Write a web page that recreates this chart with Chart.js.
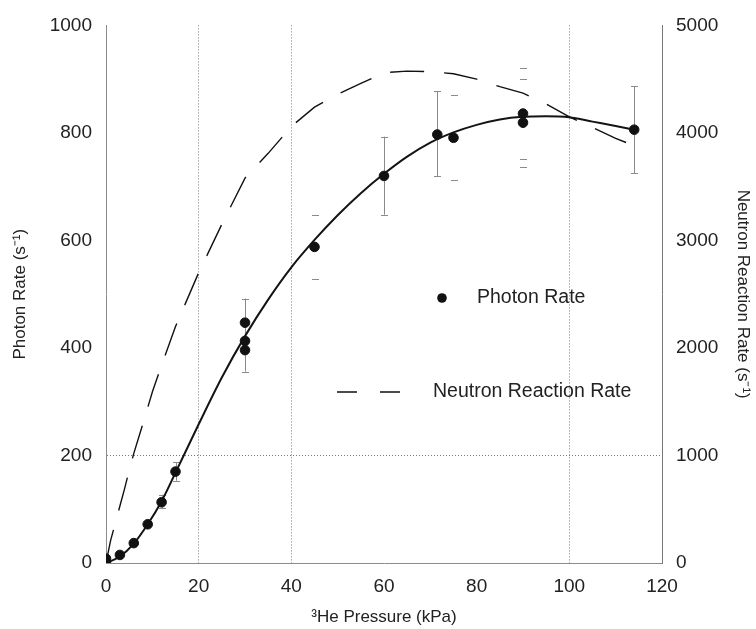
<!DOCTYPE html>
<html>
<head>
<meta charset="utf-8">
<script src="https://cdn.jsdelivr.net/npm/chart.js@4.4.1/dist/chart.umd.min.js"></script>
<style>
  html, body { margin: 0; padding: 0; background: #fff; }
  #wrap { width: 756px; height: 629px; }
</style>
</head>
<body>
<div id="wrap"><canvas id="chart" width="756" height="629"></canvas></div>
<script>
// measured photon rates
const photonX = [0, 0, 3, 6, 9, 12, 15, 30, 30, 30, 45, 60, 71.5, 75, 90, 90, 114];
const photonY = [0, 8, 15, 37, 72, 113, 170, 447, 413, 396, 588, 720, 797, 791, 836, 819, 806];

// error bars (x, low, high, whether the vertical stem is drawn)
const errX    = [12, 15, 30, 45, 60, 71.5, 75, 90, 90, 114];
const errLow  = [102, 153, 356, 529, 648, 719, 712, 752, 737, 725];
const errHigh = [127, 187, 492, 647, 793, 878, 871, 920, 900, 887];
const errStem = [true, true, true, false, true, true, false, false, false, true];

// fitted photon curve
const fitX = [0, 3, 6, 9, 12, 15, 20, 25, 30, 35, 40, 45, 50, 55, 60, 65, 70, 75, 80, 85, 90, 95, 100, 105, 110, 114];
const fitY = [0, 12, 36, 72, 115, 168, 258, 345, 422, 490, 550, 601, 647, 688, 724, 756, 782, 801, 815, 825, 830, 831, 829, 821, 813, 806];

// neutron reaction rate (right axis)
const neutronX = [0, 1, 2, 3, 4, 5, 6, 8, 10, 12, 15, 20, 25, 30, 35, 40, 45, 50, 55, 60, 65, 70, 75, 80, 85, 90, 95, 100, 105, 110, 114];
const neutronY = [0, 210, 370, 530, 690, 860, 1020, 1300, 1590, 1840, 2200, 2700, 3150, 3580, 3810, 4060, 4240, 4360, 4460, 4560, 4575, 4570, 4550, 4500, 4430, 4370, 4270, 4150, 4050, 3950, 3880];

const gridXValues = [20, 40, 100];
const gridYValues = [200];

const FONT = '"Liberation Sans", Arial, sans-serif';
const TEXT = '#222';

const toPts = (xs, ys) => xs.map((x, i) => ({ x: x, y: ys[i] }));
const plain = v => String(v);

const errorBars = {
  id: 'errorBars',
  beforeDatasetsDraw(chart) {
    const { ctx, scales: { x, y } } = chart;
    ctx.save();
    ctx.strokeStyle = '#8a8a8a';
    ctx.lineWidth = 1;
    errX.forEach((v, i) => {
      const px = Math.round(x.getPixelForValue(v)) + 0.5;
      const lo = y.getPixelForValue(errLow[i]);
      const hi = y.getPixelForValue(errHigh[i]);
      ctx.beginPath();
      if (errStem[i]) {
        ctx.moveTo(px, lo);
        ctx.lineTo(px, hi);
      }
      ctx.moveTo(px - 3.5, Math.round(lo) + 0.5);
      ctx.lineTo(px + 3.5, Math.round(lo) + 0.5);
      ctx.moveTo(px - 3.5, Math.round(hi) + 0.5);
      ctx.lineTo(px + 3.5, Math.round(hi) + 0.5);
      ctx.stroke();
    });
    ctx.restore();
  }
};

// legend drawn inside the plot
const insideLegend = {
  id: 'insideLegend',
  afterDraw(chart) {
    const ctx = chart.ctx;
    const ds = chart.data.datasets;
    ctx.save();
    ctx.font = '19.5px ' + FONT;
    ctx.textBaseline = 'middle';
    ctx.beginPath();
    ctx.arc(442, 298, 4.8, 0, Math.PI * 2);
    ctx.fillStyle = '#111';
    ctx.fill();
    ctx.fillStyle = TEXT;
    ctx.fillText(ds[0].label, 477, 298);

    ctx.strokeStyle = '#111';
    ctx.lineWidth = 1.4;
    ctx.setLineDash([20, 23]);
    ctx.beginPath();
    ctx.moveTo(337, 392);
    ctx.lineTo(420, 392);
    ctx.stroke();
    ctx.setLineDash([]);
    ctx.fillText(ds[2].label, 433, 392);
    ctx.restore();
  }
};

new Chart(document.getElementById('chart'), {
  type: 'scatter',
  data: {
    datasets: [
      {
        label: 'Photon Rate',
        data: toPts(photonX, photonY),
        backgroundColor: '#111',
        borderColor: '#111',
        pointRadius: 4.8,
        showLine: false,
        yAxisID: 'y',
        order: 0
      },
      {
        label: 'Fit',
        data: toPts(fitX, fitY),
        borderColor: '#141414',
        borderWidth: 2,
        pointRadius: 0,
        showLine: true,
        cubicInterpolationMode: 'monotone',
        yAxisID: 'y',
        order: 1
      },
      {
        label: 'Neutron Reaction Rate',
        data: toPts(neutronX, neutronY),
        borderColor: '#111',
        borderWidth: 1.4,
        borderDash: [34, 20],
        pointRadius: 0,
        showLine: true,
        tension: 0,
        yAxisID: 'y2',
        order: 2
      }
    ]
  },
  options: {
    responsive: false,
    animation: false,
    layout: { padding: { top: 22, left: 0, right: 0, bottom: 0 } },
    plugins: {
      legend: { display: false },
      tooltip: { enabled: false }
    },
    scales: {
      x: {
        type: 'linear',
        min: 0,
        max: 120,
        afterFit: s => { s.height = 66; },
        ticks: { stepSize: 20, callback: plain, color: TEXT, font: { family: FONT, size: 19 }, padding: 12, maxRotation: 0 },
        grid: {
          color: c => (c.tick && gridXValues.includes(c.tick.value)) ? '#777' : 'rgba(0,0,0,0)',
          lineWidth: 1,
          drawTicks: false
        },
        border: { color: '#8c8c8c', width: 1, dash: [1, 2] },
        title: { display: true, text: '\u00B3He Pressure (kPa)', color: TEXT, font: { family: FONT, size: 17 }, padding: { top: 0, bottom: 1 } }
      },
      y: {
        position: 'left',
        min: 0,
        max: 1000,
        afterFit: s => { s.width = 106; },
        ticks: { stepSize: 200, callback: plain, color: TEXT, font: { family: FONT, size: 19 }, padding: 14 },
        grid: {
          color: c => (c.tick && gridYValues.includes(c.tick.value)) ? '#777' : 'rgba(0,0,0,0)',
          lineWidth: 1,
          drawTicks: false
        },
        border: { color: '#8c8c8c', width: 1, dash: [1, 2] },
        title: { display: true, text: 'Photon Rate (s\u207B\u00B9)', color: TEXT, font: { family: FONT, size: 17 }, padding: { top: 10, bottom: 0 } }
      },
      y2: {
        position: 'right',
        min: 0,
        max: 5000,
        afterFit: s => { s.width = 94; },
        ticks: { stepSize: 1000, callback: plain, color: TEXT, font: { family: FONT, size: 19 }, padding: 14 },
        grid: { display: false, drawTicks: false },
        border: { color: '#777', width: 1 },
        title: { display: true, text: 'Neutron Reaction Rate (s\u207B\u00B9)', color: TEXT, font: { family: FONT, size: 17 }, padding: { top: 3, bottom: 0 } }
      }
    }
  },
  plugins: [errorBars, insideLegend]
});
</script>
</body>
</html>
